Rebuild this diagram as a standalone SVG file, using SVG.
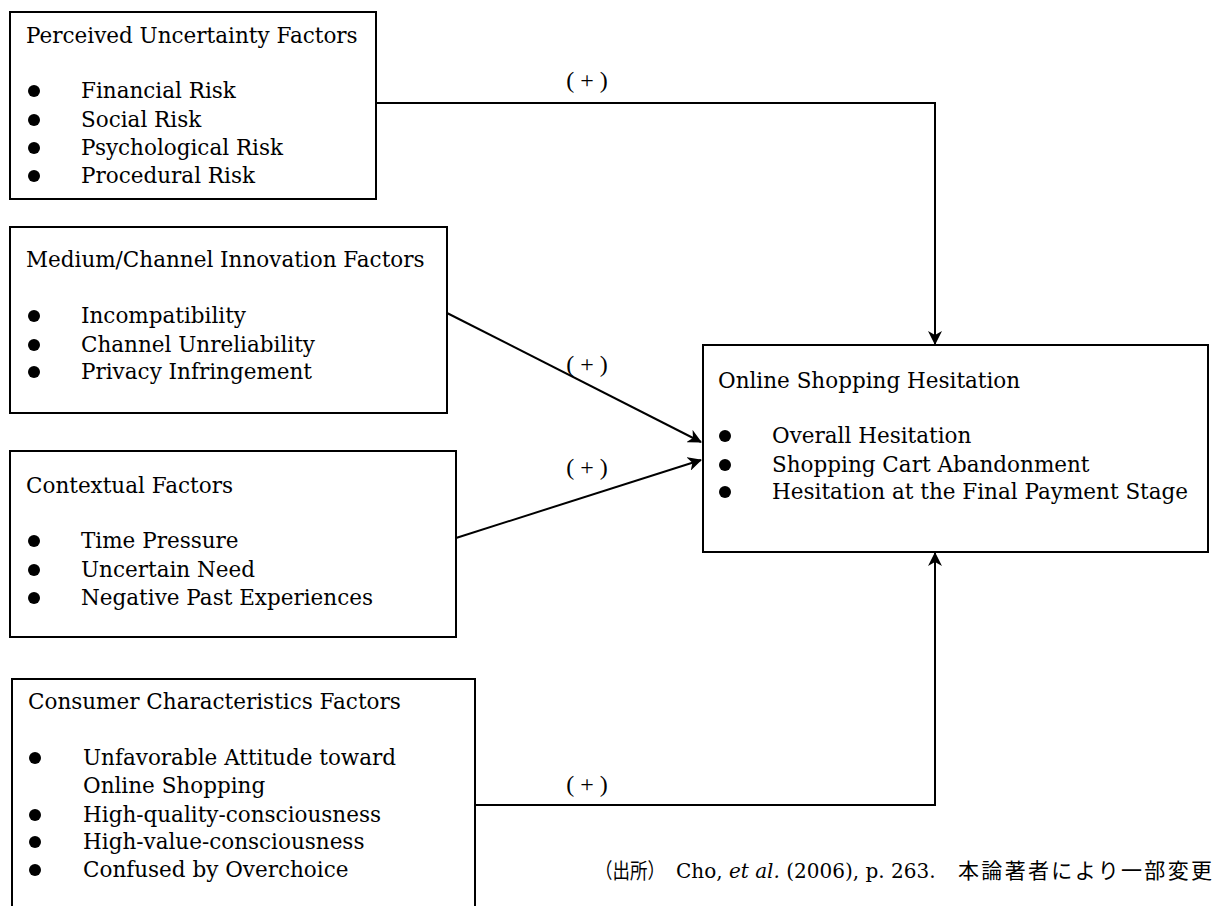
<svg xmlns="http://www.w3.org/2000/svg" width="1224" height="906" viewBox="0 0 1224 906">
<defs>
<style>
.box{fill:#fff;stroke:#000;stroke-width:2}
.t{font-family:"DejaVu Serif","Liberation Serif",serif;font-size:21.5px;fill:#000}
.lbl{font-family:"Liberation Serif",serif;font-size:24px;fill:#000;text-anchor:middle}
.con{fill:none;stroke:#000;stroke-width:2}
.fn{font-family:"DejaVu Serif","Noto Sans CJK JP",serif;font-size:20px;fill:#000}
.cjk{font-family:"Noto Sans CJK JP",sans-serif;font-size:21px}
</style>
<marker id="ah" viewBox="0 0 14 14" refX="13" refY="7" markerWidth="14" markerHeight="14" markerUnits="userSpaceOnUse" orient="auto">
<path d="M0,0 L14,7 L0,14 L4,7 z" fill="#000"/>
</marker>
</defs>
<rect width="1224" height="906" fill="#fff"/>

<g id="connectors">
<polyline class="con" points="376,103 935,103 935,344" marker-end="url(#ah)"/>
<line class="con" x1="447" y1="313" x2="701" y2="442" marker-end="url(#ah)"/>
<line class="con" x1="456" y1="538" x2="701" y2="460" marker-end="url(#ah)"/>
<polyline class="con" points="475,805 935,805 935,553" marker-end="url(#ah)"/>
<text class="lbl" x="587" y="88">( + )</text>
<text class="lbl" x="587" y="372">( + )</text>
<text class="lbl" x="587" y="475">( + )</text>
<text class="lbl" x="587" y="792">( + )</text>
</g>

<g id="perceived">
<rect class="box" x="10" y="12" width="366" height="187"/>
<text class="t" x="26" y="43">Perceived Uncertainty Factors</text>
<circle cx="34" cy="91" r="6"/><text class="t" x="81" y="98">Financial Risk</text>
<circle cx="34" cy="120" r="6"/><text class="t" x="81" y="127">Social Risk</text>
<circle cx="34" cy="148" r="6"/><text class="t" x="81" y="155">Psychological Risk</text>
<circle cx="34" cy="176" r="6"/><text class="t" x="81" y="183">Procedural Risk</text>
</g>

<g id="medium">
<rect class="box" x="10" y="227" width="437" height="186"/>
<text class="t" x="26" y="267">Medium/Channel Innovation Factors</text>
<circle cx="34" cy="316" r="6"/><text class="t" x="81" y="323">Incompatibility</text>
<circle cx="34" cy="345" r="6"/><text class="t" x="81" y="352">Channel Unreliability</text>
<circle cx="34" cy="372" r="6"/><text class="t" x="81" y="379">Privacy Infringement</text>
</g>

<g id="contextual">
<rect class="box" x="10" y="451" width="446" height="186"/>
<text class="t" x="26" y="493">Contextual Factors</text>
<circle cx="34" cy="541" r="6"/><text class="t" x="81" y="548">Time Pressure</text>
<circle cx="34" cy="570" r="6"/><text class="t" x="81" y="577">Uncertain Need</text>
<circle cx="34" cy="598" r="6"/><text class="t" x="81" y="605">Negative Past Experiences</text>
</g>

<g id="consumer">
<rect class="box" x="12" y="679" width="463" height="240"/>
<text class="t" x="28" y="709">Consumer Characteristics Factors</text>
<circle cx="35" cy="758" r="6"/><text class="t" x="83" y="765">Unfavorable Attitude toward</text>
<text class="t" x="83" y="793">Online Shopping</text>
<circle cx="35" cy="815" r="6"/><text class="t" x="83" y="822">High-quality-consciousness</text>
<circle cx="35" cy="842" r="6"/><text class="t" x="83" y="849">High-value-consciousness</text>
<circle cx="35" cy="870" r="6"/><text class="t" x="83" y="877">Confused by Overchoice</text>
</g>

<g id="hesitation">
<rect class="box" x="703" y="345" width="505" height="207"/>
<text class="t" x="718" y="388">Online Shopping Hesitation</text>
<circle cx="725" cy="436" r="6"/><text class="t" x="772" y="443">Overall Hesitation</text>
<circle cx="725" cy="465" r="6"/><text class="t" x="772" y="472">Shopping Cart Abandonment</text>
<circle cx="725" cy="492" r="6"/><text class="t" x="772" y="499">Hesitation at the Final Payment Stage</text>
</g>

<g id="source">
<text class="fn" y="878"><tspan class="cjk" x="595" textLength="70" lengthAdjust="spacingAndGlyphs">（出所）</tspan><tspan x="676">Cho, </tspan><tspan font-style="italic">et al.</tspan> (2006), p. 263.<tspan class="cjk" x="958" textLength="254" lengthAdjust="spacing">本論著者により一部変更</tspan></text>
</g>
</svg>
